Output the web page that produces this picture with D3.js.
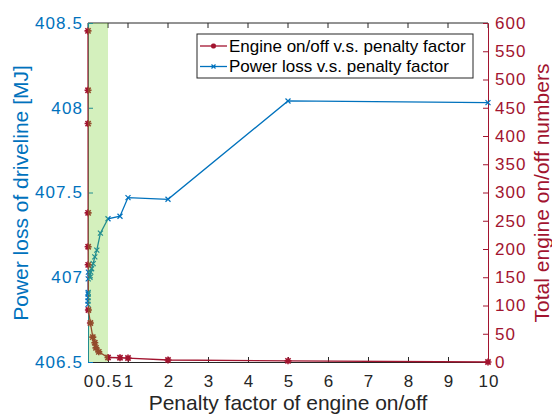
<!DOCTYPE html>
<html>
<head>
<meta charset="utf-8">
<script src="https://cdn.jsdelivr.net/npm/d3@7"></script>
<style>
body { margin: 0; background: #fff; }
text { font-family: "Liberation Sans", Arial, sans-serif; }
.tk { font-size: 17px; letter-spacing: 1.1px; }
</style>
</head>
<body>
<script>
let width = 552
let height = 415

// penalty factor vs total engine on/off numbers
let engineX = [0, 0.001, 0.002, 0.003, 0.004, 0.005, 0.01, 0.06, 0.12, 0.17, 0.2, 0.27, 0.5, 0.8, 1, 2, 5, 10]
let engineY = [586, 481, 422, 264, 204, 172, 92, 69, 44, 34, 25, 18, 8, 7.5, 7, 3.5, 2, 0]

// penalty factor vs power loss
let lossX = [0, 0.001, 0.002, 0.003, 0.004, 0.005, 0.01, 0.05, 0.07, 0.09, 0.13, 0.17, 0.22, 0.31, 0.5, 0.8, 1, 2, 5, 10]
let lossY = [406.84, 406.86, 406.88, 406.9, 406.91, 406.99, 407.03, 407.0, 407.03, 407.05, 407.08, 407.12, 407.16, 407.26, 407.345, 407.36, 407.47, 407.46, 408.04, 408.03]

let xTicks = [0, 0.5, 1, 2, 3, 4, 5, 6, 7, 8, 9, 10]
let leftTicks = [406.5, 407, 407.5, 408, 408.5]
let rightTicks = d3.range(0, 601, 50)

let blue = "#0072bd"
let red = "#a2142f"

let x0 = 88, x1 = 488, yTop = 23, yBot = 362

let x = d3.scaleLinear().domain([0, 10]).range([x0, x1])
let yL = d3.scaleLinear().domain([406.5, 408.5]).range([yBot, yTop])
let yR = d3.scaleLinear().domain([0, 600]).range([yBot, yTop])

let svg = d3.select("body").append("svg")
  .attr("width", width)
  .attr("height", height)

// box: top line
svg.append("line")
  .attr("x1", x0).attr("x2", x1).attr("y1", yTop).attr("y2", yTop)
  .attr("stroke", "#262626").attr("stroke-width", 1)

// x axis bottom
let xb = svg.append("g").attr("transform", "translate(0," + yBot + ")")
  .call(d3.axisBottom(x).tickValues(xTicks).tickFormat(d3.format("")).tickSizeInner(-5).tickSizeOuter(0).tickPadding(13))
xb.select(".domain").attr("stroke", "#262626")
xb.selectAll(".tick line").attr("stroke", "#262626")
xb.selectAll("text").attr("fill", "#262626").attr("class", "tk").attr("dx", "0.5px")

// top ticks
svg.append("g").selectAll("line").data(xTicks).join("line")
  .attr("x1", d => x(d)).attr("x2", d => x(d))
  .attr("y1", yTop).attr("y2", yTop + 5)
  .attr("stroke", "#262626")

// left axis
let la = svg.append("g").attr("transform", "translate(" + x0 + ",0)")
  .call(d3.axisLeft(yL).tickValues(leftTicks).tickFormat(d3.format("")).tickSizeInner(-5).tickSizeOuter(0).tickPadding(5))
la.select(".domain").attr("stroke", blue)
la.selectAll(".tick line").attr("stroke", blue)
la.selectAll("text").attr("fill", blue).attr("class", "tk")

// right axis
let ra = svg.append("g").attr("transform", "translate(" + x1 + ",0)")
  .call(d3.axisRight(yR).tickValues(rightTicks).tickSizeInner(-5).tickSizeOuter(0).tickPadding(7))
ra.select(".domain").attr("stroke", red)
ra.selectAll(".tick line").attr("stroke", red)
ra.selectAll("text").attr("fill", red).attr("class", "tk")

// lines
let lossLine = d3.line().x((d, i) => x(lossX[i])).y(d => yL(d))
let engLine = d3.line().x((d, i) => x(engineX[i])).y(d => yR(d))

svg.append("path").datum(lossY)
  .attr("d", lossLine).attr("fill", "none").attr("stroke", blue).attr("stroke-width", 1.3)
svg.append("path").datum(engineY)
  .attr("d", engLine).attr("fill", "none").attr("stroke", red).attr("stroke-width", 1.3)

// markers
function cross(g, cx, cy, s, col) {
  g.append("path")
    .attr("d", "M" + (cx - s) + "," + (cy - s) + "L" + (cx + s) + "," + (cy + s) + "M" + (cx - s) + "," + (cy + s) + "L" + (cx + s) + "," + (cy - s))
    .attr("stroke", col).attr("stroke-width", 1.2).attr("fill", "none")
}
function star(g, cx, cy, s, col) {
  g.append("path")
    .attr("d", "M" + (cx - s) + "," + cy + "L" + (cx + s) + "," + cy +
      "M" + cx + "," + (cy - s) + "L" + cx + "," + (cy + s) +
      "M" + (cx - s * 0.75) + "," + (cy - s * 0.75) + "L" + (cx + s * 0.75) + "," + (cy + s * 0.75) +
      "M" + (cx - s * 0.75) + "," + (cy + s * 0.75) + "L" + (cx + s * 0.75) + "," + (cy - s * 0.75))
    .attr("stroke", col).attr("stroke-width", 1.6).attr("fill", "none")
  g.append("circle").attr("cx", cx).attr("cy", cy).attr("r", s * 0.6).attr("fill", col)
}

let mk = svg.append("g")
lossY.forEach((v, i) => cross(mk, x(lossX[i]), yL(v), 2.5, blue))
engineY.forEach((v, i) => star(mk, x(engineX[i]), yR(v), 3.5, red))

// green patch (drawn over lines, semi transparent)
svg.append("rect")
  .attr("x", x(0)).attr("y", yTop)
  .attr("width", x(0.5) - x(0)).attr("height", yBot - yTop)
  .attr("fill", "rgb(112,205,38)").attr("fill-opacity", 0.3)

// legend
let lg = svg.append("g")
lg.append("rect").attr("x", 197).attr("y", 34).attr("width", 276).attr("height", 44)
  .attr("fill", "#fff").attr("stroke", "#262626").attr("stroke-width", 1)
let legendItems = [
  { name: "Engine on/off v.s. penalty factor", col: red, kind: "star" },
  { name: "Power loss v.s. penalty factor", col: blue, kind: "cross" }
]
legendItems.forEach((d, i) => {
  let cy = 46 + i * 20.5
  lg.append("line").attr("x1", 200).attr("x2", 227).attr("y1", cy).attr("y2", cy)
    .attr("stroke", d.col).attr("stroke-width", 1.3)
  if (d.kind === "star") star(lg, 213.5, cy, 2.5, d.col)
  else cross(lg, 213.5, cy, 2, d.col)
  lg.append("text").attr("x", 229).attr("y", cy).attr("dy", "0.35em")
    .attr("fill", "#000").style("font-size", "17px").text(d.name)
})

// axis labels
svg.append("text")
  .attr("x", 288).attr("y", 410)
  .attr("text-anchor", "middle").attr("fill", "#262626")
  .style("font-size", "21px").text("Penalty factor of engine on/off")

svg.append("text")
  .attr("transform", "translate(28,193) rotate(-90)")
  .attr("text-anchor", "middle").attr("fill", blue)
  .style("font-size", "21px").text("Power loss of driveline [MJ]")

svg.append("text")
  .attr("transform", "translate(549,193) rotate(-90)")
  .attr("text-anchor", "middle").attr("fill", red)
  .style("font-size", "21px").text("Total engine on/off numbers")
</script>
</body>
</html>
